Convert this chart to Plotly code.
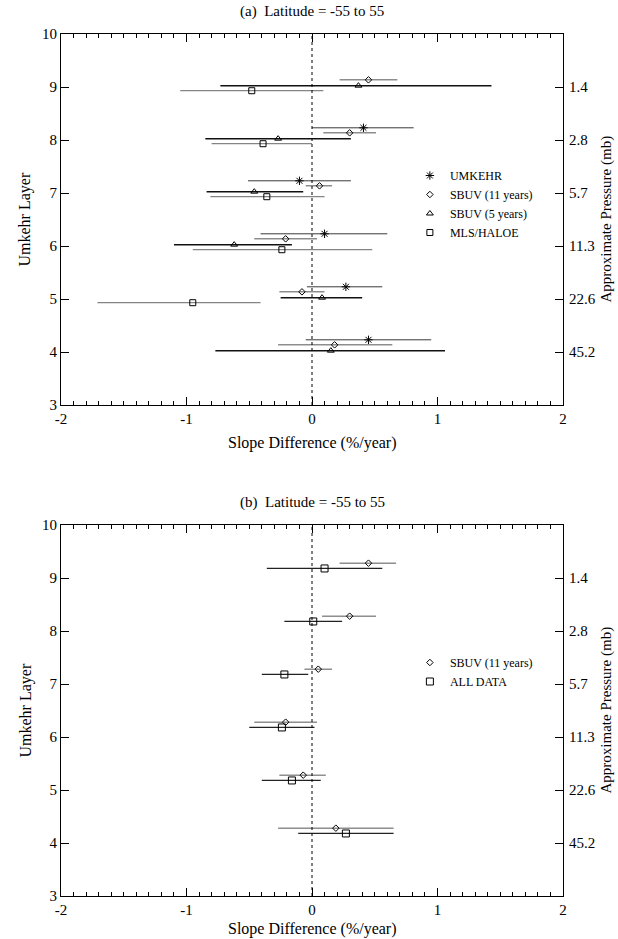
import plotly.graph_objects as go

# ---------------- data ----------------
layers = [9, 8, 7, 6, 5, 4]
y_ticks = [3, 4, 5, 6, 7, 8, 9, 10]
pressure_labels = ["1.4", "2.8", "5.7", "11.3", "22.6", "45.2"]
x_ticks = [-2, -1, 0, 1, 2]
x_tick_labels = ["-2", "-1", "0", "1", "2"]

# panel (a)
umkehr_val = [None, 0.41, -0.10, 0.10, 0.27, 0.45]
umkehr_lo = [None, 0.00, -0.51, -0.41, -0.04, -0.05]
umkehr_hi = [None, 0.81, 0.31, 0.60, 0.56, 0.95]

sbuv11_val = [0.45, 0.30, 0.06, -0.21, -0.08, 0.18]
sbuv11_lo = [0.22, 0.09, -0.05, -0.46, -0.26, -0.27]
sbuv11_hi = [0.68, 0.51, 0.16, 0.04, 0.10, 0.64]

sbuv5_val = [0.37, -0.27, -0.46, -0.62, 0.08, 0.15]
sbuv5_lo = [-0.73, -0.85, -0.84, -1.10, -0.25, -0.77]
sbuv5_hi = [1.43, 0.31, -0.07, -0.16, 0.40, 1.06]

mls_val = [-0.48, -0.39, -0.36, -0.24, -0.95, None]
mls_lo = [-1.05, -0.80, -0.81, -0.95, -1.71, None]
mls_hi = [0.09, 0.00, 0.10, 0.48, -0.41, None]

# panel (b)
sbuv11b_val = [0.45, 0.30, 0.05, -0.21, -0.07, 0.19]
sbuv11b_lo = [0.22, 0.08, -0.06, -0.46, -0.26, -0.27]
sbuv11b_hi = [0.67, 0.51, 0.16, 0.04, 0.11, 0.65]

all_val = [0.10, 0.01, -0.22, -0.24, -0.16, 0.27]
all_lo = [-0.36, -0.22, -0.40, -0.50, -0.40, -0.11]
all_hi = [0.56, 0.24, -0.03, 0.02, 0.07, 0.65]

# ---------------- styling ----------------
FONT = "Liberation Serif"
W, H = 618, 939
ML, MR, MT, MB = 61, 55, 34, 43
PW = W - ML - MR
PH = H - MT - MB
PANEL_H = 371
A_BOTTOM = 1 - PANEL_H / PH
B_TOP = PANEL_H / PH

fig = go.Figure()


def px_x(px):
    return (px - ML) / PW


def px_y(py):
    return (H - MB - py) / PH


def add_series(name, vals, lo, hi, offset, symbol, msize, xaxis, yaxis, legend,
               ecolor="#3a3a3a", ewidth=1.0):
    xs, ys, ep, em = [], [], [], []
    for L, v, a, b in zip(layers, vals, lo, hi):
        if v is None:
            continue
        xs.append(v)
        ys.append(L + offset)
        ep.append(b - v)
        em.append(v - a)
    fig.add_trace(go.Scatter(
        x=xs, y=ys, mode="markers", name=name, xaxis=xaxis, yaxis=yaxis,
        legend=legend,
        marker=dict(symbol=symbol, size=msize, color="black",
                    line=dict(color="black", width=1.0)),
        error_x=dict(type="data", symmetric=False, array=ep, arrayminus=em,
                     width=0, thickness=ewidth, color=ecolor),
    ))


add_series("UMKEHR", umkehr_val, umkehr_lo, umkehr_hi, 0.23, "asterisk-open", 7, "x", "y", "legend")
add_series("SBUV (11 years)", sbuv11_val, sbuv11_lo, sbuv11_hi, 0.135, "diamond-open", 5, "x", "y", "legend",
           ecolor="#555555")
add_series("SBUV (5 years)", sbuv5_val, sbuv5_lo, sbuv5_hi, 0.025, "triangle-up-open", 6, "x", "y", "legend",
           ecolor="#111111", ewidth=1.5)
add_series("MLS/HALOE", mls_val, mls_lo, mls_hi, -0.07, "square-open", 6, "x", "y", "legend",
           ecolor="#666666", ewidth=1.0)

add_series("SBUV (11 years)", sbuv11b_val, sbuv11b_lo, sbuv11b_hi, 0.28, "diamond-open", 5, "x2", "y2", "legend2",
           ecolor="#555555")
add_series("ALL DATA", all_val, all_lo, all_hi, 0.18, "square-open", 7, "x2", "y2", "legend2",
           ecolor="#222222", ewidth=1.3)

# zero dotted lines
for xr, yr in (("x", "y"), ("x2", "y2")):
    fig.add_shape(type="line", xref=xr, yref=yr, x0=0, x1=0, y0=3, y1=10,
                  line=dict(color="black", width=1, dash="dot"))

tickfont = dict(family=FONT, size=15, color="black")
titlefont = dict(family=FONT, size=16, color="black")

xaxis_common = dict(
    range=[-2, 2], tickvals=x_ticks, ticktext=x_tick_labels, ticks="inside",
    ticklen=8, tickwidth=1, tickcolor="black", showline=True, linecolor="black",
    linewidth=1, mirror="ticks", showgrid=False, zeroline=False, automargin=False,
    minor=dict(dtick=0.1, ticks="inside", ticklen=4, tickcolor="black", showgrid=False),
    tickfont=tickfont,
)
yaxis_common = dict(
    range=[3, 10], tickvals=y_ticks, ticks="inside", ticklen=8, tickcolor="black",
    showline=True, linecolor="black", linewidth=1, showgrid=False, zeroline=False,
    automargin=False, tickfont=tickfont,
)
yright_common = dict(
    range=[3, 10], tickvals=layers, ticktext=pressure_labels, ticks="inside", ticklen=8,
    tickcolor="black", side="right", showline=True, linecolor="black", showgrid=False,
    zeroline=False, tickfont=tickfont, automargin=False, ticklabelstandoff=2,
)

ann_font = dict(family=FONT, size=15, color="black")
rt_font = dict(family=FONT, size=15, color="black")

annotations = []
for ttl, top in (("(a)  Latitude = -55 to 55", 1.0), ("(b)  Latitude = -55 to 55", B_TOP)):
    annotations.append(dict(text=ttl, x=0.5, y=top, xref="paper", yref="paper",
                            xanchor="center", yanchor="bottom", showarrow=False, yshift=12,
                            font=ann_font))
for py in (443, 929):
    annotations.append(dict(text="Slope Difference (%/year)", x=0.5, y=px_y(py),
                            xref="paper", yref="paper", xanchor="center", yanchor="middle",
                            showarrow=False, font=titlefont))
for ymid in ((A_BOTTOM + 1) / 2, B_TOP / 2):
    annotations.append(dict(text="Umkehr Layer", x=px_x(25), y=ymid, xref="paper",
                            yref="paper", xanchor="center", yanchor="middle",
                            showarrow=False, textangle=-90, font=titlefont))
    annotations.append(dict(text="Approximate Pressure (mb)", x=px_x(606), y=ymid,
                            xref="paper", yref="paper", xanchor="center", yanchor="middle",
                            showarrow=False, textangle=-90, font=rt_font))

fig.update_layout(
    width=W, height=H,
    margin=dict(l=ML, r=MR, t=MT, b=MB, autoexpand=False),
    paper_bgcolor="white", plot_bgcolor="white",
    font=dict(family=FONT, color="black"),
    xaxis=dict(domain=[0, 1], anchor="y", **xaxis_common),
    yaxis=dict(domain=[A_BOTTOM, 1.0], anchor="x", **yaxis_common),
    xaxis2=dict(domain=[0, 1], anchor="y2", **xaxis_common),
    yaxis2=dict(domain=[0.0, B_TOP], anchor="x2", **yaxis_common),
    yaxis3=dict(overlaying="y", anchor="x", **yright_common),
    yaxis4=dict(overlaying="y2", anchor="x2", **yright_common),
    legend=dict(x=0.695, y=px_y(161), xanchor="left", yanchor="top", bgcolor="rgba(0,0,0,0)",
                font=dict(family=FONT, size=12, color="black"), itemwidth=30,
                tracegroupgap=0),
    legend2=dict(x=0.695, y=px_y(648), xanchor="left", yanchor="top", bgcolor="rgba(0,0,0,0)",
                 font=dict(family=FONT, size=12, color="black"), itemwidth=30,
                 tracegroupgap=0),
    showlegend=True,
    annotations=annotations,
)

# invisible traces to anchor right axes
for ya, xa in (("y3", "x"), ("y4", "x2")):
    fig.add_trace(go.Scatter(x=[None], y=[None], xaxis=xa, yaxis=ya, showlegend=False,
                             hoverinfo="skip"))

fig.write_html(
    "out.html",
    config={"displayModeBar": False},
    post_script="document.body.style.margin='0';document.body.style.overflow='hidden';",
)
